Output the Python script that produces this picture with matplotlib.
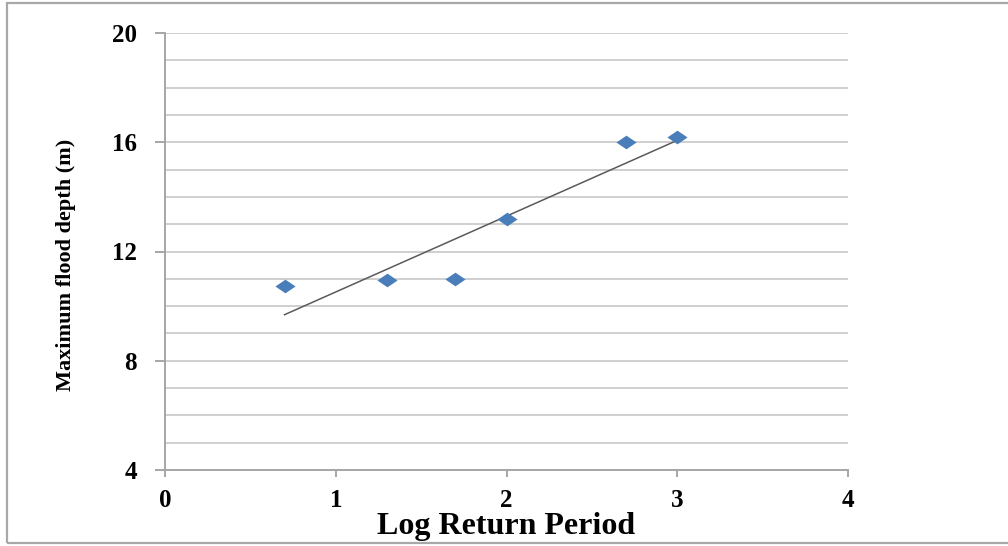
import matplotlib; matplotlib.use("Agg")
import matplotlib.pyplot as plt
import numpy as np
from matplotlib.patches import Rectangle
from matplotlib.ticker import MultipleLocator

# flood depth against log return period
log_return = [0.7, 1.3, 1.7, 2.0, 2.7, 3.0]
max_depth = [10.75, 10.95, 11.0, 13.2, 16.0, 16.2]
x_ticks = [0, 1, 2, 3, 4]
y_ticks = [4, 8, 12, 16, 20]

plt.rcParams["font.family"] = ["Liberation Serif", "DejaVu Serif"]
plt.rcParams["font.weight"] = "bold"

fig = plt.figure(figsize=(10.08, 5.46), dpi=100)
ax = fig.add_axes([165/1008, 1-470/546, (848-165)/1008, (470-33)/546])

GRID = "#cfcfcf"; SPINE = "#a6a6a6"; BLUE = "#4a7ebb"

ax.set_xlim(0, 4); ax.set_ylim(4, 20)
ax.yaxis.set_minor_locator(MultipleLocator(1))
ax.set_xticks(x_ticks); ax.set_yticks(y_ticks)
ax.grid(axis="y", which="both", color=GRID, lw=1.4)
ax.set_axisbelow(True)
for s in ("top", "right"): ax.spines[s].set_visible(False)
for s in ("left", "bottom"): ax.spines[s].set_color(SPINE); ax.spines[s].set_linewidth(1.4)
ax.tick_params(axis="y", which="major", length=7.2, width=1.4, color=SPINE, pad=13, labelsize=18)
ax.tick_params(axis="y", which="minor", length=0)
ax.tick_params(axis="x", length=5, width=1.4, color=SPINE, pad=9, labelsize=18)

# wide diamond markers
diamond = [(-1, 0), (0, 0.68), (1, 0), (0, -0.68), (-1, 0)]
ax.scatter(log_return, max_depth, marker=diamond, s=210, color=BLUE, zorder=3, lw=0)

# linear trend line over the data range
k, b = np.polyfit(log_return, max_depth, 1)
xs = np.array([min(log_return), max(log_return)])
ax.plot(xs, k*xs + b, color="#5a5a5a", lw=1.1, zorder=2)

ax.set_xlabel("Log Return Period", fontsize=23, fontweight="bold", labelpad=0)
fig.text(66/1008, 1-265/546, "Maximum flood depth (m)", rotation=90, fontsize=16,
         fontweight="bold", ha="center", va="center")

# outer frame (left, top, bottom)
fig.patches.append(Rectangle((7/1008, 3/546), 1.2, 540/546, transform=fig.transFigure,
                             fill=False, ec="#a8a8a8", lw=1.6))

fig.savefig("out.png", dpi=100)
